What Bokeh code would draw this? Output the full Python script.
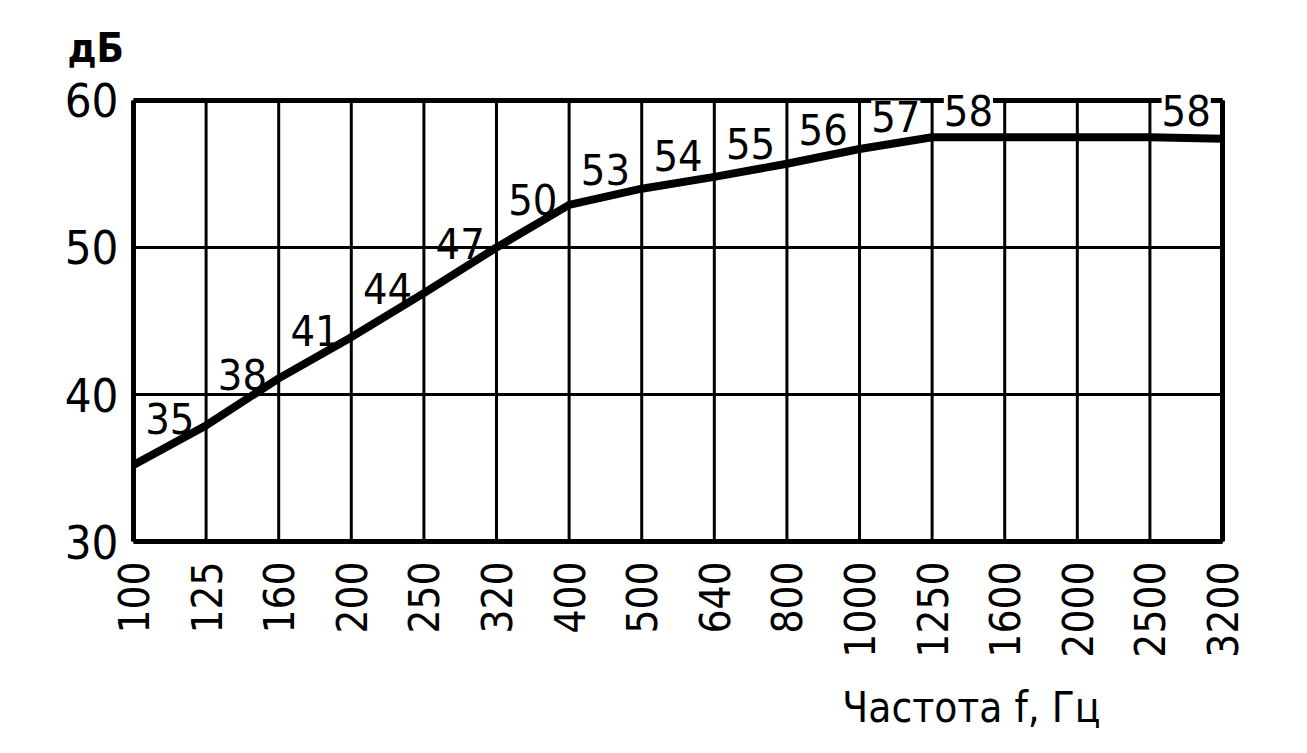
import math
from bokeh.plotting import figure
from bokeh.models import FixedTicker, Range1d, ColumnDataSource, Title
from bokeh.core.properties import value
from bokeh.embed import file_html
from bokeh.resources import INLINE

# ---- data ----
freq_labels = ["100", "125", "160", "200", "250", "320", "400", "500", "640",
               "800", "1000", "1250", "1600", "2000", "2500", "3200"]
curve_db = [35.2, 37.9, 41.1, 43.9, 46.9, 50.0, 52.9, 54.0, 54.8,
            55.7, 56.7, 57.5, 57.5, 57.5, 57.5, 57.4]
band_text = ["35", "38", "41", "44", "47", "50", "53", "54", "55", "56", "57", "58", "58"]
band_start = [0, 1, 2, 3, 4, 5, 6, 7, 8, 9, 10, 11, 14]   # index of the band's lower frequency
y_ticks = [30, 40, 50, 60]

FONT = "DejaVu Sans Condensed"

n = len(freq_labels)
x_idx = list(range(n))
x0, x1 = x_idx[0], x_idx[-1]
y0, y1 = y_ticks[0], y_ticks[-1]

# small paddings (layout only) so that the frame lines and the top labels are not clipped
p = figure(width=1300, height=752, output_backend="svg", toolbar_location=None,
           x_range=Range1d(x0 - 0.055, x1 + 0.041), y_range=Range1d(y0 - 0.20, y1 + 0.61),
           min_border_left=129, min_border_top=91, min_border_right=75, min_border_bottom=207)
p.background_fill_color = "white"
p.border_fill_color = "white"
p.outline_line_color = None
p.xgrid.visible = False
p.ygrid.visible = False

# axes
p.xaxis.ticker = FixedTicker(ticks=x_idx)
p.xaxis.major_label_overrides = {i: f for i, f in zip(x_idx, freq_labels)}
p.xaxis.major_label_orientation = math.pi / 2
p.yaxis.ticker = FixedTicker(ticks=y_ticks)
for ax in (p.xaxis, p.yaxis):
    ax.axis_line_color = None
    ax.major_tick_line_color = None
    ax.minor_tick_line_color = None
    ax.major_label_text_font = FONT
    ax.major_label_text_color = "black"
p.xaxis.major_label_text_font_size = "42px"
p.xaxis.major_label_standoff = 11
p.yaxis.major_label_text_font_size = "47px"
p.yaxis.major_label_standoff = 5

# grid lines (drawn between the first and last tick only)
p.segment(x0=x_idx, y0=[y0] * n, x1=x_idx, y1=[y1] * n, line_color="black", line_width=3)
p.segment(x0=[x0] * len(y_ticks), y0=y_ticks, x1=[x1] * len(y_ticks), y1=y_ticks,
          line_color="black", line_width=3)
# frame
p.segment(x0=[x0, x1, x0, x0], y0=[y0, y0, y0, y1], x1=[x0, x1, x1, x1], y1=[y1, y1, y0, y1],
          line_color="black", line_width=5)

# curve
p.line(x=x_idx, y=curve_db, line_color="black", line_width=8, line_join="round")

# band labels above the curve at the middle of each band
lx = [b + 0.5 for b in band_start]
ly = [(curve_db[b] + curve_db[b + 1]) / 2 for b in band_start]
top = [v > 57 for v in ly]   # labels that reach over the top border
src_low = ColumnDataSource(dict(x=[a for a, t in zip(lx, top) if not t],
                                y=[a for a, t in zip(ly, top) if not t],
                                t=[a for a, t in zip(band_text, top) if not t]))
src_top = ColumnDataSource(dict(x=[a for a, t in zip(lx, top) if t],
                                y=[a for a, t in zip(ly, top) if t],
                                t=[a for a, t in zip(band_text, top) if t]))
common = dict(x="x", y="y", text="t", text_font=value(FONT), text_font_size="43px",
              text_align="center", text_baseline="middle", y_offset=-27, text_color="black")
p.text(source=src_low, **common)
p.text(source=src_top, background_fill_color="white", **common)

# axis titles
p.add_layout(Title(text="дБ", align="left", offset=-62, standoff=42,
                   text_font=FONT, text_font_size="40px", text_font_style="bold",
                   text_color="black"), "above")
p.add_layout(Title(text="Частота f, Гц", align="right", offset=125, standoff=41,
                   text_font=FONT, text_font_size="42px", text_font_style="normal",
                   text_color="black"), "below")

open("out.html", "w").write(file_html(p, INLINE))
